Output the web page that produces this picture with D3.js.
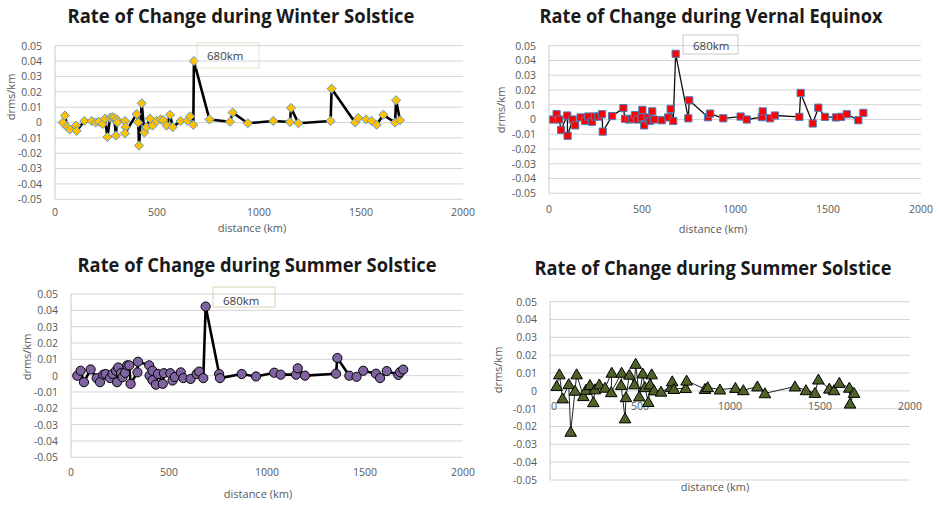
<!DOCTYPE html>
<html>
<head>
<meta charset="utf-8">
<script src="https://cdn.jsdelivr.net/npm/d3@7"></script>
<style>
  body { margin: 0; background: #fff; }
  text { font-family: "Open Sans", "Liberation Sans", sans-serif; }
</style>
</head>
<body>
<svg id="chart" width="940" height="506"></svg>
<script>
// values (distance in km, rate in drms/km)
const winterKm = [38,49,60,73,103,106,144,180,199,215,234,245,257,270,280,290,299,303,306,343,346,343,400,408,412,425,438,449,466,478,498,518,531,547,564,577,616,649,662,678,681,757,858,871,945,1070,1152,1157,1193,1351,1356,1471,1487,1525,1552,1577,1609,1667,1672,1691];
const winterRate = [0,0.0045,-0.003,-0.0045,-0.002,-0.0055,0.001,0.001,0,0.0005,-0.001,0.0025,-0.0095,0.003,0.0035,0.003,-0.0085,0.002,0,0.001,-0.003,-0.007,0.0055,0,-0.015,0.0125,-0.0065,-0.003,0.0025,-0.002,0.001,0.002,0.0015,-0.002,0.005,-0.003,0.001,0.0012,0.004,-0.0015,0.04,0.002,0.0005,0.0065,-0.0005,0.001,0.0003,0.0095,-0.0005,0.001,0.022,0,0.003,0.002,0.001,-0.0015,0.005,0,0.0145,0.0015];

const vernalKm = [23,41,55,65,98,100,127,141,170,194,211,231,247,265,285,289,339,400,409,430,446,462,475,498,502,512,530,542,555,565,606,641,654,668,681,749,754,855,866,937,1030,1063,1144,1149,1188,1215,1346,1353,1418,1448,1484,1543,1570,1601,1663,1690];
const vernalRate = [0,0.0036,0,-0.007,0.0027,-0.011,0,-0.004,0.0014,-0.001,0.002,-0.0015,0.002,0.002,0.0036,-0.0082,0.0023,0.0077,0.0005,0,0.0005,0.003,0,0.0015,0.0065,-0.004,0.0014,-0.001,0.0055,0,-0.0005,0.0014,0.0072,-0.001,0.0445,0.0008,0.013,0.0015,0.004,0.0008,0.002,0,0.0016,0.0055,0.0008,0.0027,0.0018,0.018,-0.0027,0.008,0.0018,0.0014,0.0018,0.0036,-0.0005,0.0045];

const summerKm = [32,49,66,100,131,148,165,177,199,212,230,235,241,255,263,276,287,297,304,339,342,399,401,416,416,433,444,468,474,507,518,530,560,573,610,641,654,675,687,756,760,871,944,1037,1070,1148,1157,1194,1352,1359,1420,1457,1491,1556,1577,1611,1670,1679,1695];
const summerRate = [0,0.003,-0.004,0.0038,-0.0015,-0.004,0.0006,0.001,-0.0015,0.001,0.003,-0.004,0.005,0.0015,-0.001,0.0017,0.0063,0.0063,-0.005,0.002,0.0085,0.0063,0,0.003,-0.0028,-0.0055,0.001,-0.005,0.0015,0.0015,-0.003,-0.0008,0.002,-0.0015,-0.002,0.001,0.0025,-0.0015,0.0423,0.001,-0.0015,0.001,-0.0005,0.0018,0.0006,0.0006,0.0045,0,0.0012,0.0108,0,-0.0007,0.003,0.0012,-0.0015,0.0028,0.0005,0.0022,0.0037];

const summer2Km = [37,52,70,104,115,139,148,185,200,222,241,250,274,306,343,340,398,395,417,422,441,469,476,496,515,527,546,565,556,578,617,672,679,688,754,759,861,876,944,1030,1074,1152,1194,1361,1422,1472,1491,1552,1578,1607,1663,1667,1689];
const summer2Rate = [0.0027,0.0092,-0.0043,0.0037,-0.023,0,0.0092,-0.003,0.0005,0.0032,-0.0064,0.0008,0.0035,0.0017,0.0101,-0.0008,0.0101,0.0032,-0.0155,-0.0036,0.009,0.0036,0.0151,-0.0032,0.0097,0.002,-0.0063,0.0092,0.0036,0.0002,-0.0005,0.002,0.0053,0.001,0.0015,0.0057,0.001,0.002,0.0007,0.0016,0.0003,0.0024,-0.0014,0.0024,0.0003,-0.0012,0.0063,0.0012,0.0003,0.0044,0.0017,-0.0072,-0.0012];

const xTicks = [0, 500, 1000, 1500, 2000];
const yTicks = [0.05, 0.04, 0.03, 0.02, 0.01, 0, -0.01, -0.02, -0.03, -0.04, -0.05];
const titles = ['Rate of Change during Winter Solstice', 'Rate of Change during Vernal Equinox',
                'Rate of Change during Summer Solstice', 'Rate of Change during Summer Solstice'];
const peakLabel = '680km';

// Excel style markers
const diamond = { draw(c) { c.moveTo(0,-4.6); c.lineTo(4.6,0); c.lineTo(0,4.6); c.lineTo(-4.6,0); c.closePath(); } };
const square = { draw(c) { c.rect(-3.6,-3.6,7.2,7.2); } };
const circle = { draw(c) { c.moveTo(4.6,0); c.arc(0,0,4.6,0,2*Math.PI); } };
const triangle = { draw(c) { c.moveTo(0,-5.6); c.lineTo(5.8,4.4); c.lineTo(-5.8,4.4); c.closePath(); } };

const panels = [
  { km: winterKm, rate: winterRate, x0: 55, x1: 463, yTop: 45.7, yBot: 199.3, xLabY: 213,
    title: [241, 18, 347], yTitle: [12, 97], xTitle: [252, 229],
    marker: diamond, fill: '#FFC000', stroke: '#5B9BD5', lineW: 2.6, lineC: '#000',
    box: [197, 43, 62, 25, '#e8e0c8'], boxText: [207, 57] },
  { km: vernalKm, rate: vernalRate, x0: 549, x1: 921, yTop: 45.7, yBot: 193.3, xLabY: 210,
    title: [711, 18, 343], yTitle: [502, 110], xTitle: [713, 230],
    marker: square, fill: '#FF0000', stroke: '#4A7EBB', lineW: 1.3, lineC: '#111',
    box: [683, 35, 55, 19, '#c8c8c8'], boxText: [693, 46.5] },
  { km: summerKm, rate: summerRate, x0: 71, x1: 463, yTop: 294, yBot: 457.3, xLabY: 473,
    title: [257, 267, 359], yTitle: [28, 357], xTitle: [258, 495],
    marker: circle, fill: '#8064A2', stroke: '#000', lineW: 2.6, lineC: '#000',
    box: [213, 287, 62, 20, '#ddd3b0'], boxText: [223, 301.5] },
  { km: summer2Km, rate: summer2Rate, x0: 550, x1: 910, yTop: 301.7, yBot: 480, xLabY: 407,
    title: [713, 270, 357], yTitle: [499, 370], xTitle: [715, 488],
    marker: triangle, fill: '#4F6228', stroke: '#000', lineW: 1, lineC: '#222',
    box: null }
];

const svg = d3.select('#chart');
const fmt = d => d === 0 ? '0' : d.toFixed(2);

panels.forEach((p, i) => {
  const x = d3.scaleLinear().domain([0, 2000]).range([p.x0, p.x1]);
  const y = d3.scaleLinear().domain([-0.05, 0.05]).range([p.yBot, p.yTop]);
  const g = svg.append('g');

  // gridlines
  g.selectAll('.grid').data(yTicks).enter().append('line')
    .attr('x1', p.x0).attr('x2', p.x1)
    .attr('y1', d => y(d)).attr('y2', d => y(d))
    .attr('stroke', '#d4d4d4').attr('stroke-width', 1);

  // vertical axis
  g.append('line').attr('x1', p.x0).attr('x2', p.x0).attr('y1', p.yTop).attr('y2', p.yBot)
    .attr('stroke', '#c8c8c8');

  // y tick labels
  const yAxis = g.append('g').attr('transform', `translate(${p.x0 - 10},0)`)
    .call(d3.axisLeft(y).tickValues(yTicks).tickFormat(fmt).tickSize(0));
  yAxis.select('.domain').remove();
  yAxis.selectAll('text').attr('fill', '#595959').style('font-size', '10.5px')
    .style('font-family', '"Open Sans", sans-serif');

  // x tick labels
  g.selectAll('.xl').data(xTicks).enter().append('text')
    .attr('x', d => x(d) + (i === 3 && d === 0 ? 4 : 0)).attr('y', p.xLabY)
    .attr('text-anchor', 'middle').attr('dominant-baseline', 'middle')
    .attr('fill', '#595959').style('font-size', '10.5px')
    .text(d => d);

  // titles
  g.append('text').attr('x', p.title[0]).attr('y', p.title[1])
    .attr('text-anchor', 'middle').attr('dominant-baseline', 'middle')
    .attr('textLength', p.title[2]).attr('lengthAdjust', 'spacingAndGlyphs')
    .style('font-size', '19px').style('font-weight', 'bold').attr('fill', '#1a1a1a')
    .text(titles[i]);

  g.append('text').attr('transform', `translate(${p.yTitle[0]},${p.yTitle[1]}) rotate(-90)`)
    .attr('text-anchor', 'middle').attr('dominant-baseline', 'middle')
    .attr('fill', '#595959').style('font-size', '11px').text('drms/km');

  g.append('text').attr('x', p.xTitle[0]).attr('y', p.xTitle[1])
    .attr('text-anchor', 'middle').attr('dominant-baseline', 'middle')
    .attr('fill', '#595959').style('font-size', '11px').text('distance (km)');

  // series line
  const pts = p.km.map((k, j) => [k, p.rate[j]]);
  const line = d3.line().x(d => x(d[0])).y(d => y(d[1]));
  g.append('path').datum(pts).attr('d', line)
    .attr('fill', 'none').attr('stroke', p.lineC).attr('stroke-width', p.lineW)
    .attr('stroke-linejoin', 'round');

  // markers
  const sym = d3.symbol().type(p.marker);
  g.selectAll('.pt').data(pts).enter().append('path')
    .attr('d', sym)
    .attr('transform', d => `translate(${x(d[0])},${y(d[1])})`)
    .attr('fill', p.fill).attr('stroke', p.stroke).attr('stroke-width', 1);

  // peak annotation
  if (p.box) {
    g.append('rect').attr('x', p.box[0]).attr('y', p.box[1])
      .attr('width', p.box[2]).attr('height', p.box[3])
      .attr('fill', 'none').attr('stroke', p.box[4]).attr('stroke-width', 1);
    g.append('text').attr('x', p.boxText[0]).attr('y', p.boxText[1])
      .attr('dominant-baseline', 'middle').attr('fill', '#404040')
      .style('font-size', '11.5px').text(peakLabel);
  }
});
</script>
</body>
</html>
